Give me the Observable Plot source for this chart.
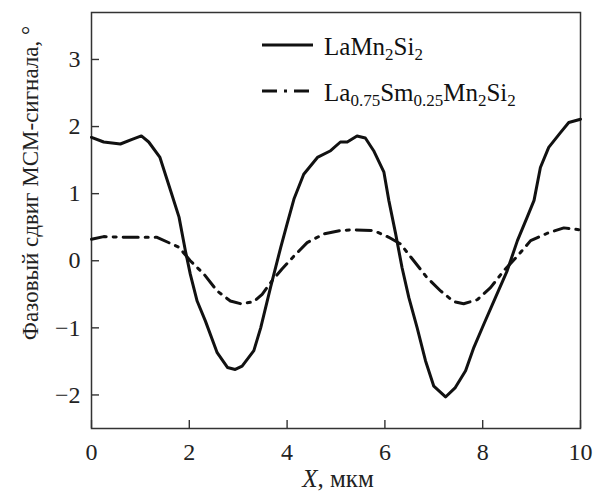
<!DOCTYPE html>
<html><head><meta charset="utf-8">
<script src="https://cdn.jsdelivr.net/npm/d3@7"></script>
<script src="https://cdn.jsdelivr.net/npm/@observablehq/plot@0.6"></script>
<style>
body{margin:0;background:#fff}
#chart svg, #chart svg text { font-family: "Liberation Serif", "Times New Roman", serif !important; }
</style>
</head><body><div id="chart"></div>
<script>
const xTicks = [0, 2, 4, 6, 8, 10];
const yTicks = [-2, -1, 0, 1, 2, 3];

const xSolid = [0,0.25,0.59,0.83,1.02,1.17,1.40,1.62,1.79,1.92,2.02,2.16,2.33,2.57,2.78,2.94,3.08,3.32,3.46,3.66,3.87,4.0,4.14,4.34,4.62,4.89,5.09,5.23,5.43,5.60,5.77,5.98,6.08,6.22,6.35,6.49,6.66,6.83,7.0,7.24,7.44,7.65,7.82,8.02,8.26,8.5,8.71,8.91,9.05,9.18,9.35,9.59,9.76,10];
const ySolid = [1.84,1.77,1.74,1.81,1.86,1.77,1.54,1.04,0.65,0.15,-0.2,-0.6,-0.9,-1.37,-1.59,-1.62,-1.57,-1.34,-1.0,-0.40,0.2,0.55,0.92,1.29,1.54,1.64,1.77,1.77,1.86,1.83,1.64,1.32,0.90,0.40,-0.10,-0.55,-1.0,-1.49,-1.87,-2.03,-1.89,-1.64,-1.29,-0.95,-0.55,-0.15,0.30,0.65,0.90,1.39,1.69,1.91,2.06,2.11];

const xDash = [0,0.25,0.66,1.34,1.79,2.02,2.30,2.57,2.84,3.05,3.32,3.49,3.69,3.90,4.14,4.41,4.75,5.09,5.30,5.77,6.08,6.32,6.59,6.86,7.14,7.41,7.61,7.89,8.16,8.43,8.71,8.98,9.32,9.66,10];
const yDash = [0.32,0.36,0.35,0.35,0.2,0.0,-0.2,-0.45,-0.6,-0.64,-0.61,-0.50,-0.30,-0.12,0.07,0.27,0.40,0.45,0.46,0.45,0.35,0.25,0.0,-0.25,-0.45,-0.61,-0.64,-0.58,-0.40,-0.15,0.07,0.30,0.41,0.49,0.46];

const W = 594, H = 493, mL = 91, mR = 14, mT = 12, mB = 65;
const xDomain = [0, 10], yDomain = [-2.5, 3.7];
const tickPx = 8;
const tx = tickPx * (xDomain[1] - xDomain[0]) / (W - mL - mR);
const ty = tickPx * (yDomain[1] - yDomain[0]) / (H - mT - mB);
const dashPattern = "15 7 3 7";

const solid = xSolid.map((x, i) => ({x, y: ySolid[i]}));
const dashed = xDash.map((x, i) => ({x, y: yDash[i]}));

const font = "Liberation Serif, Times New Roman, serif";
const fmt = d => d < 0 ? "\u2212" + (-d) : String(d);

const plot = Plot.plot({
  width: W, height: H,
  marginLeft: mL, marginRight: mR, marginTop: mT, marginBottom: mB,
  x: {domain: xDomain},
  y: {domain: yDomain},
  style: {fontSize: "24px", color: "#222", background: "#fff"},
  marks: [
    Plot.axisX({ticks: xTicks, tickSize: 0, tickPadding: 14, label: null, tickFormat: fmt}),
    Plot.axisY({ticks: yTicks, tickSize: 0, tickPadding: 11, label: null, tickFormat: fmt}),
    Plot.ruleX(xTicks, {x: d => d, y1: yDomain[0], y2: yDomain[0] + ty, stroke: "#333", strokeWidth: 1.4}),
    Plot.ruleY(yTicks, {y: d => d, x1: xDomain[0], x2: xDomain[0] + tx, stroke: "#333", strokeWidth: 1.4}),
    Plot.frame({stroke: "#333", strokeWidth: 1.5}),
    Plot.line(solid, {x: "x", y: "y", stroke: "#111", strokeWidth: 3, strokeLinejoin: "round"}),
    Plot.line(dashed, {x: "x", y: "y", stroke: "#111", strokeWidth: 3, strokeDasharray: dashPattern})
  ]
});

const svg = d3.select(plot);
// Legend
const legend = svg.append("g").attr("font-family", font).attr("font-size", 25).attr("fill", "#111").attr("text-anchor", "start");
const rows = [
  {y: 45, dash: null, parts: [["La"], ["Mn"], ["2", true], ["Si"], ["2", true]]},
  {y: 91, dash: dashPattern, parts: [["La"], ["0.75", true], ["Sm"], ["0.25", true], ["Mn"], ["2", true], ["Si"], ["2", true]]}
];
rows.forEach(r => {
  legend.append("line").attr("x1", 262).attr("x2", 313).attr("y1", r.y).attr("y2", r.y)
    .attr("stroke", "#111").attr("stroke-width", 3).attr("stroke-dasharray", r.dash);
  const t = legend.append("text").attr("x", 324).attr("y", r.y + 10).attr("text-anchor", "start");
  let shifted = false;
  r.parts.forEach(([s, sub]) => {
    const ts = t.append("tspan").text(s);
    if (sub && !shifted) { ts.attr("dy", 5).attr("font-size", 17); shifted = true; }
    else if (sub) { ts.attr("font-size", 17); }
    else if (shifted) { ts.attr("dy", -5); shifted = false; }
  });
});
// X label
const xl = svg.append("text").attr("x", 338).attr("y", 487).attr("text-anchor", "middle")
  .attr("font-family", font).attr("font-size", 25).attr("fill", "#222");
xl.append("tspan").attr("font-style", "italic").text("X");
xl.append("tspan").text(", мкм");
// Y label
svg.append("text").attr("transform", "translate(38,183) rotate(-90)").attr("text-anchor", "middle")
  .attr("font-family", font).attr("font-size", 23).attr("fill", "#222")
  .text("Фазовый сдвиг МСМ-сигнала, °");

document.getElementById("chart").appendChild(plot);
</script>
</body></html>
